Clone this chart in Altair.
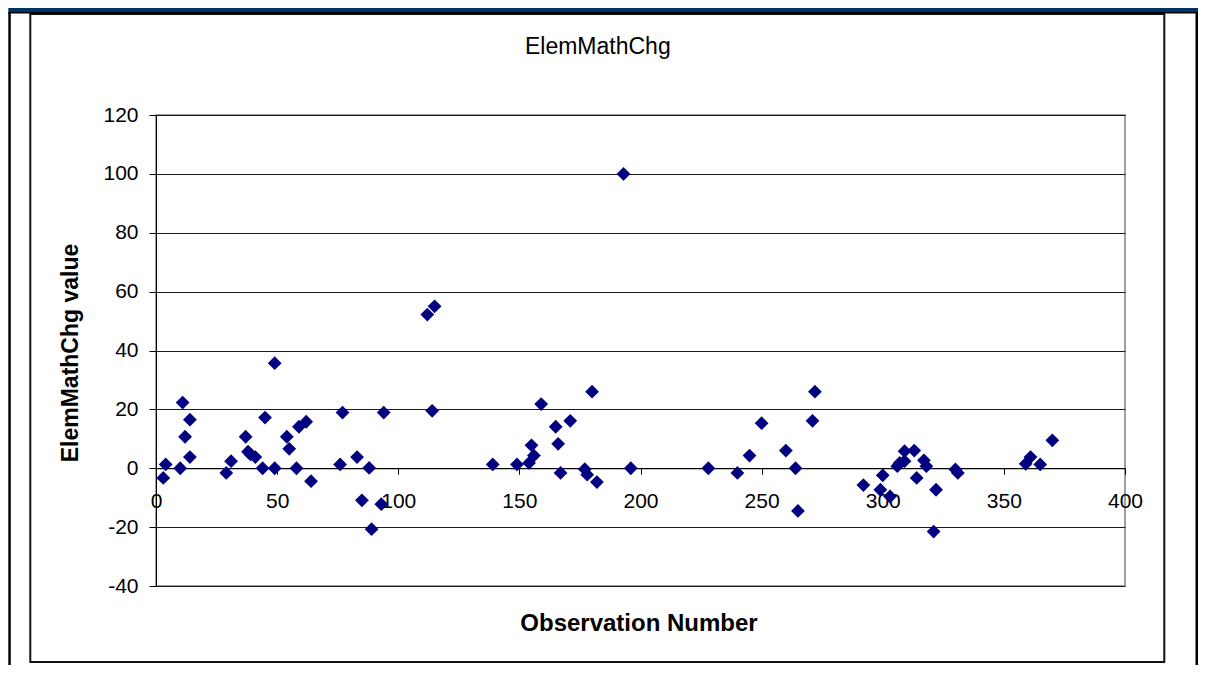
import altair as alt
import pandas as pd

# ---- data ----
obs = [3, 4, 10, 11, 12, 14, 14, 29, 31, 37, 38, 39, 41, 44, 45, 49, 49, 54, 55, 58,
       59, 62, 64, 76, 77, 83, 85, 88, 89, 93, 94, 112, 114, 115, 139, 149, 154, 155,
       156, 159, 165, 166, 167, 171, 177, 178, 180, 182, 193, 196, 228, 240, 245, 250,
       260, 264, 265, 271, 272, 292, 299, 300, 303, 306, 307, 309, 309, 313, 314, 317,
       318, 321, 322, 330, 331, 359, 361, 365, 370]
vals = [-3.3, 1.3, 0.0, 22.3, 10.7, 3.8, 16.5, -1.6, 2.4, 10.7, 5.6, 4.7, 3.8, 0.0, 17.2,
        0.0, 35.7, 10.7, 6.6, 0.0, 14.1, 15.8, -4.4, 1.3, 18.9, 3.8, -10.9, 0.1, -20.7,
        -12.2, 18.9, 52.2, 19.5, 55.0, 1.3, 1.3, 1.8, 7.8, 4.3, 21.8, 14.1, 8.3, -1.6,
        16.1, -0.3, -2.2, 26.0, -4.7, 100.0, 0.0, 0.0, -1.6, 4.3, 15.3, 6.0, 0.0, -14.5,
        16.1, 26.0, -5.7, -7.3, -2.4, -9.6, 0.7, 1.8, 2.4, 5.8, 6.0, -3.3, 2.7, 0.7,
        -21.5, -7.3, -0.4, -1.6, 1.5, 3.8, 1.3, 9.5]
x_ticks = [0, 50, 100, 150, 200, 250, 300, 350, 400]
y_ticks = [-40, -20, 0, 20, 40, 60, 80, 100, 120]
chart_title = "ElemMathChg"
x_title = "Observation Number"
y_title = "ElemMathChg value"

df = pd.DataFrame({"obs": obs, "val": vals})

W, H = 969, 471
FONT = "Liberation Sans"
zero_off = -(H * 40 / 160)

points = alt.Chart(df).mark_point(
    shape="diamond", filled=True, size=190, color="#000080", opacity=1
).encode(
    x=alt.X("obs:Q",
            scale=alt.Scale(domain=[0, 400], nice=False, zero=False),
            axis=alt.Axis(values=x_ticks, offset=zero_off, grid=False,
                          domainColor="black", domainWidth=1,
                          tickColor="black", tickSize=6, tickWidth=1,
                          labelPadding=16, labelFontSize=21, labelFont=FONT,
                          labelColor="black", labelFlush=False, labelOverlap=False,
                          labelExpr="'' + datum.value",
                          title=x_title, titleFont=FONT, titleFontSize=24,
                          titleFontWeight="bold", titleColor="black",
                          titleX=W / 2 - 2, titleY=155, titleAlign="center",
                          titleBaseline="middle")),
    y=alt.Y("val:Q",
            scale=alt.Scale(domain=[-40, 120], nice=False, zero=False),
            axis=alt.Axis(values=y_ticks, grid=True, gridColor="#1a1a1a", gridWidth=1,
                          domainColor="black", domainWidth=1,
                          tickColor="black", tickSize=7, tickWidth=1,
                          labelPadding=11, labelFontSize=21, labelFont=FONT,
                          labelColor="black", labelOverlap=False,
                          labelExpr="'' + datum.value",
                          title=y_title, titleFont=FONT, titleFontSize=23,
                          titleFontWeight="bold", titleColor="black",
                          titleAngle=-90, titleX=-86, titleY=H / 2 + 2,
                          titleAlign="center", titleBaseline="middle")),
)

one = alt.Data(values=[{}])

# chart frame box
box = alt.Chart(one).mark_rect(fill="transparent", stroke="#111111", strokeWidth=2).encode(
    x=alt.value(-125.7), x2=alt.value(1008.3), y=alt.value(-101), y2=alt.value(547)
)
banner = alt.Chart(one).mark_rect(fill="#003366").encode(
    x=alt.value(-147.7), x2=alt.value(1042.3), y=alt.value(-107), y2=alt.value(-103)
)
banner_line = alt.Chart(one).mark_rect(fill="black").encode(
    x=alt.value(-147.7), x2=alt.value(1042.3), y=alt.value(-103), y2=alt.value(-101.5)
)
left_line = alt.Chart(one).mark_rect(fill="black").encode(
    x=alt.value(-147.7), x2=alt.value(-145.2), y=alt.value(-103), y2=alt.value(560)
)
right_line = alt.Chart(one).mark_rect(fill="black").encode(
    x=alt.value(1039.5), x2=alt.value(1042), y=alt.value(-103), y2=alt.value(560)
)
title = alt.Chart(one).mark_text(
    text=chart_title, font=FONT, fontSize=23, color="black",
    align="center", baseline="alphabetic"
).encode(x=alt.value(441.8), y=alt.value(-61.5))

chart = alt.layer(
    box, banner, banner_line, left_line, right_line, title, points
).properties(
    width=W, height=H,
    autosize=alt.AutoSizeParams(type="none"),
    padding={"left": 148, "top": 107, "right": 73, "bottom": 79},
).configure_view(stroke="#808080", strokeWidth=1.5)

chart.save("out.html", embed_options={"renderer": "svg", "actions": False})
